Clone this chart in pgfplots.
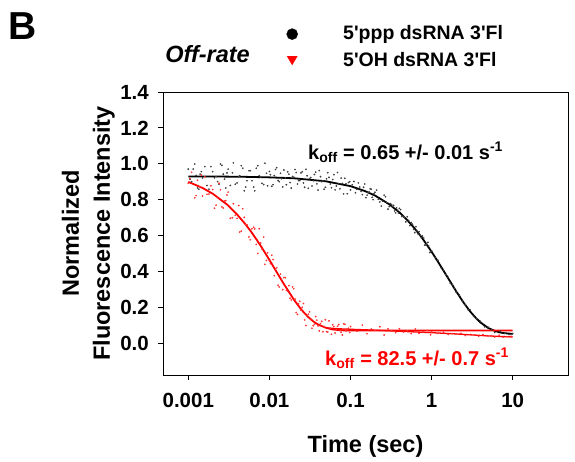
\documentclass[border=0pt]{standalone}
\usepackage{fontspec}
\setmainfont{Liberation Sans}
\usepackage{pgfplots}
\pgfplotsset{compat=1.18}

% fitted curves
\pgfplotstableread{
t y
0.001 0.929
0.002 0.929
0.005 0.927
0.01 0.924
0.02 0.919
0.05 0.902
0.1 0.875
0.15 0.848
0.2 0.823
0.3 0.774
0.4 0.729
0.5 0.686
0.6 0.646
0.7 0.608
0.8 0.573
1.0 0.509
1.2 0.453
1.5 0.382
2.0 0.290
2.5 0.223
3.0 0.175
3.5 0.141
4.0 0.115
5.0 0.084
6.0 0.068
7.0 0.059
8.0 0.055
10 0.051
}\blackfit
\pgfplotstableread{
t y
0.001 0.899
0.0015 0.865
0.002 0.833
0.003 0.773
0.004 0.717
0.005 0.666
0.006 0.619
0.007 0.575
0.008 0.535
0.01 0.464
0.012 0.404
0.015 0.331
0.02 0.243
0.025 0.184
0.03 0.146
0.035 0.120
0.04 0.103
0.05 0.085
0.06 0.076
0.07 0.073
0.08 0.071
0.1 0.070
1 0.070
10 0.070
}\redfit

\pgfplotsset{
  ppplegend/.style={legend image code/.code={\path[draw=none] (0pt,0pt) -- (57pt,0pt); \fill[black] (6pt,5pt) circle (5.5pt);}},
  ohlegend/.style={legend image code/.code={\path[draw=none] (0pt,0pt) -- (57pt,0pt); \fill[red] (1pt,10pt) -- (11pt,10pt) -- (6pt,1.5pt) -- cycle;}},
}

\begin{document}
\begin{tikzpicture}
\begin{axis}[
  scale only axis,
  width=405pt, height=283pt,
  xmode=log,
  xmin=0.000488, xmax=48,
  ymin=-0.178, ymax=1.4,
  xtick={0.001,0.01,0.1,1,10},
  xticklabels={0.001,0.01,0.1,1,10},
  ytick={0,0.2,0.4,0.6,0.8,1.0,1.2,1.4},
  xminorticks=false,
  tick align=outside,
  xtick pos=bottom, ytick pos=left,
  major tick length=5pt,
  axis line style={line width=0.8pt},
  tick style={line width=0.8pt, black},
  /pgf/number format/fixed,
  /pgf/number format/fixed zerofill,
  /pgf/number format/precision=1,
  /pgf/number format/assume math mode=true,
  tick label style={font=\fontsize{20.5}{24}\selectfont\bfseries, inner sep=0pt},
  xticklabel style={yshift=-13pt},
  yticklabel style={xshift=-9pt},
  xlabel={Time (sec)},
  ylabel={Normalized\\Fluorescence Intensity},
  label style={font=\fontsize{23.5}{31}\selectfont\bfseries, inner sep=0pt},
  xlabel style={at={(axis description cs:0.5,-0.212)}, anchor=north},
  ylabel style={at={(axis description cs:-0.1185,0.5)}, anchor=south, align=center},
  clip=false,
  legend style={draw=none, fill=none, inner sep=0pt, row sep=11.5pt,
    at={(axis description cs:0.3037,1.2375)}, anchor=north west,
    font=\fontsize{19.5}{23}\selectfont\bfseries,
    nodes={inner sep=0pt, anchor=base west}},
  legend cell align=left,
]
\addlegendimage{ppplegend}
\addlegendentry{5\textquotesingle ppp dsRNA 3\textquotesingle Fl}
\addlegendimage{ohlegend}
\addlegendentry{5\textquotesingle OH dsRNA 3\textquotesingle Fl}

% 5'ppp data
\addplot[only marks, mark=*, mark size=0.65pt, black!75, forget plot] table {
t y
0.0010 0.970
0.0011 0.900
0.0012 0.998
0.0013 0.865
0.0014 0.942
0.0015 0.921
0.0016 0.984
0.0018 0.858
0.0020 0.956
0.0022 0.928
0.0024 0.886
0.0026 0.991
0.0028 0.914
0.0030 0.949
0.0033 0.879
0.0036 1.005
0.0040 0.893
0.0043 0.933
0.0047 0.975
0.0051 0.870
0.0056 0.961
0.0061 0.905
0.0066 0.849
0.0072 0.989
0.0078 0.926
0.0085 0.884
0.0092 0.947
0.00105 0.914
0.00115 0.970
0.00125 0.935
0.00135 0.858
0.00145 0.956
0.0017 0.879
0.0019 0.984
0.0021 0.921
0.0023 0.900
0.0025 0.998
0.0027 0.942
0.0029 0.865
0.0031 0.970
0.0035 0.949
0.0038 0.886
0.0042 0.928
0.0045 0.989
0.0049 0.849
0.0053 0.905
0.0058 0.961
0.0064 0.870
0.0069 0.975
0.0075 0.933
0.0081 0.891
0.0088 1.003
0.0095 0.877
0.0100 0.957
0.0107 0.874
0.0115 0.934
0.0123 0.978
0.0132 0.900
0.0141 0.916
0.0151 0.965
0.0162 0.883
0.0174 0.942
0.0186 0.864
0.0200 0.925
0.0214 0.951
0.0229 0.906
0.0245 0.949
0.0263 0.893
0.0282 0.969
0.0302 0.863
0.0324 0.923
0.0347 0.905
0.0372 0.953
0.0398 0.853
0.0427 0.928
0.0457 0.904
0.0490 0.869
0.0525 0.950
0.0562 0.887
0.0603 0.912
0.0646 0.854
0.0692 0.951
0.0741 0.860
0.0794 0.890
0.0851 0.919
0.0912 0.833
0.0977 0.900
0.0103 0.939
0.0111 0.883
0.0119 0.968
0.0128 0.907
0.0137 0.947
0.0146 0.871
0.0157 0.921
0.0168 0.955
0.0180 0.895
0.0193 0.929
0.0207 0.968
0.0222 0.887
0.0237 0.906
0.0254 0.955
0.0272 0.869
0.0292 0.933
0.0313 0.917
0.0335 0.876
0.0359 0.940
0.0385 0.888
0.0412 0.962
0.0442 0.900
0.0473 0.858
0.0507 0.916
0.0543 0.924
0.0582 0.866
0.0624 0.939
0.0669 0.876
0.0716 0.888
0.0767 0.920
0.0822 0.832
0.0881 0.888
0.0944 0.895
0.10 0.854
0.11 0.901
0.12 0.857
0.13 0.870
0.14 0.828
0.15 0.887
0.16 0.825
0.17 0.842
0.18 0.858
0.19 0.800
0.20 0.841
0.22 0.802
0.24 0.764
0.26 0.825
0.28 0.784
0.30 0.761
0.32 0.772
0.34 0.768
0.36 0.726
0.38 0.741
0.40 0.751
0.43 0.706
0.46 0.701
0.50 0.704
0.54 0.655
0.58 0.663
0.62 0.616
0.66 0.625
0.70 0.621
0.75 0.586
0.80 0.586
0.85 0.547
0.90 0.562
0.95 0.505
0.105 0.883
0.115 0.838
0.125 0.893
0.135 0.846
0.145 0.869
0.155 0.811
0.165 0.840
0.175 0.860
0.185 0.813
0.195 0.832
0.21 0.853
0.23 0.787
0.25 0.791
0.27 0.816
0.29 0.747
0.31 0.778
0.33 0.762
0.35 0.737
0.37 0.754
0.39 0.725
0.415 0.744
0.445 0.707
0.48 0.676
0.52 0.684
0.56 0.672
0.60 0.634
0.64 0.649
0.68 0.609
0.72 0.601
0.77 0.597
0.82 0.546
0.87 0.553
0.92 0.542
0.97 0.507
1.0 0.514
1.1 0.477
1.2 0.461
1.3 0.421
1.4 0.406
1.5 0.381
1.6 0.367
1.7 0.333
1.8 0.326
1.9 0.306
2.0 0.285
2.2 0.268
2.4 0.233
2.6 0.214
2.8 0.187
3.0 0.184
3.3 0.149
3.6 0.136
4.0 0.121
4.5 0.091
5.0 0.088
5.5 0.073
6.0 0.059
7.0 0.066
8.0 0.055
9.0 0.048
10 0.053
};

% 5'OH data
\addplot[only marks, mark=*, mark size=0.65pt, red!80, forget plot] table {
t y
0.0010 0.892
0.0011 0.952
0.0012 0.810
0.0013 0.908
0.0014 0.872
0.0015 0.820
0.0016 0.927
0.0018 0.831
0.0020 0.856
0.0022 0.769
0.0024 0.891
0.0026 0.759
0.0028 0.792
0.0030 0.826
0.0033 0.696
0.0036 0.777
0.0040 0.695
0.0043 0.619
0.0047 0.749
0.0051 0.661
0.0056 0.592
0.0061 0.637
0.0066 0.637
0.0072 0.500
0.0078 0.558
0.0085 0.591
0.0092 0.461
0.00105 0.918
0.00125 0.822
0.00145 0.937
0.0017 0.830
0.0019 0.877
0.0021 0.752
0.0023 0.814
0.0025 0.855
0.0027 0.753
0.0029 0.794
0.0031 0.842
0.0035 0.699
0.0038 0.713
0.0042 0.767
0.0045 0.624
0.0049 0.701
0.0053 0.659
0.0058 0.576
0.0064 0.646
0.0069 0.550
0.0075 0.638
0.0081 0.525
0.0088 0.439
0.0095 0.504
0.0100 0.458
0.0107 0.490
0.0115 0.376
0.0123 0.420
0.0132 0.313
0.0141 0.357
0.0151 0.365
0.0162 0.295
0.0174 0.320
0.0186 0.240
0.0200 0.303
0.0214 0.170
0.0229 0.218
0.0245 0.183
0.0263 0.221
0.0282 0.098
0.0302 0.161
0.0324 0.132
0.0347 0.097
0.0372 0.148
0.0398 0.096
0.0427 0.109
0.0457 0.063
0.0490 0.130
0.0525 0.062
0.0562 0.083
0.0603 0.102
0.0646 0.056
0.0692 0.094
0.0741 0.069
0.0794 0.045
0.0851 0.105
0.0912 0.077
0.0977 0.059
0.0103 0.443
0.0111 0.466
0.0119 0.413
0.0128 0.323
0.0137 0.385
0.0146 0.298
0.0157 0.365
0.0168 0.289
0.0180 0.250
0.0193 0.313
0.0207 0.245
0.0222 0.160
0.0237 0.233
0.0254 0.199
0.0272 0.129
0.0292 0.151
0.0313 0.174
0.0335 0.083
0.0359 0.105
0.0385 0.128
0.0412 0.068
0.0442 0.121
0.0473 0.092
0.0507 0.064
0.0543 0.124
0.0582 0.049
0.0624 0.093
0.0669 0.074
0.0716 0.103
0.0767 0.060
0.0822 0.107
0.0881 0.068
0.0944 0.082
0.10 0.092
0.12 0.066
0.14 0.100
0.16 0.052
0.18 0.078
0.20 0.070
0.23 0.091
0.26 0.045
0.29 0.079
0.32 0.068
0.36 0.058
0.40 0.080
0.45 0.062
0.50 0.069
0.56 0.053
0.63 0.079
0.70 0.054
0.79 0.062
0.88 0.070
0.97 0.046
1.0 0.062
1.2 0.054
1.4 0.060
1.6 0.048
1.8 0.053
2.0 0.051
2.3 0.054
2.6 0.042
3.0 0.048
3.4 0.045
3.8 0.039
4.3 0.047
4.8 0.040
5.4 0.041
6.0 0.034
6.8 0.044
7.6 0.033
8.5 0.035
9.5 0.038
};
% dense 5'OH points at long times merge into a band
\addplot[red, line width=1.3pt, forget plot] coordinates {
(0.05,0.085) (0.07,0.080) (0.1,0.077) (0.2,0.072) (0.5,0.064) (1,0.058)
(2,0.051) (3,0.046) (5,0.040) (7,0.037) (10,0.034)
};

% fits
\addplot[black, line width=1.8pt, forget plot] table {\blackfit};
\addplot[red, line width=1.8pt, forget plot] table {\redfit};

\node[anchor=base west, inner sep=0pt, font=\fontsize{20}{24}\selectfont\bfseries]
  at (axis description cs:0.358,0.763) {k\textsubscript{off} = 0.65 +/- 0.01 s\textsuperscript{-1}};
\node[anchor=base west, inner sep=0pt, red, font=\fontsize{20}{24}\selectfont\bfseries]
  at (axis description cs:0.400,0.0353) {k\textsubscript{off} = 82.5 +/- 0.7 s\textsuperscript{-1}};
\node[anchor=base east, inner sep=0pt, font=\fontsize{23.5}{28}\selectfont\bfseries\itshape]
  at (axis description cs:0.2148,1.1025) {Off-rate};
\node[anchor=north west, inner sep=0pt, font=\fontsize{39}{44}\selectfont\bfseries]
  at (axis description cs:-0.3827,1.2827) {B};
\end{axis}
\path ([shift={(-163pt,-86pt)}]current axis.south west) rectangle ([shift={(7pt,92pt)}]current axis.north east);
\end{tikzpicture}
\end{document}
